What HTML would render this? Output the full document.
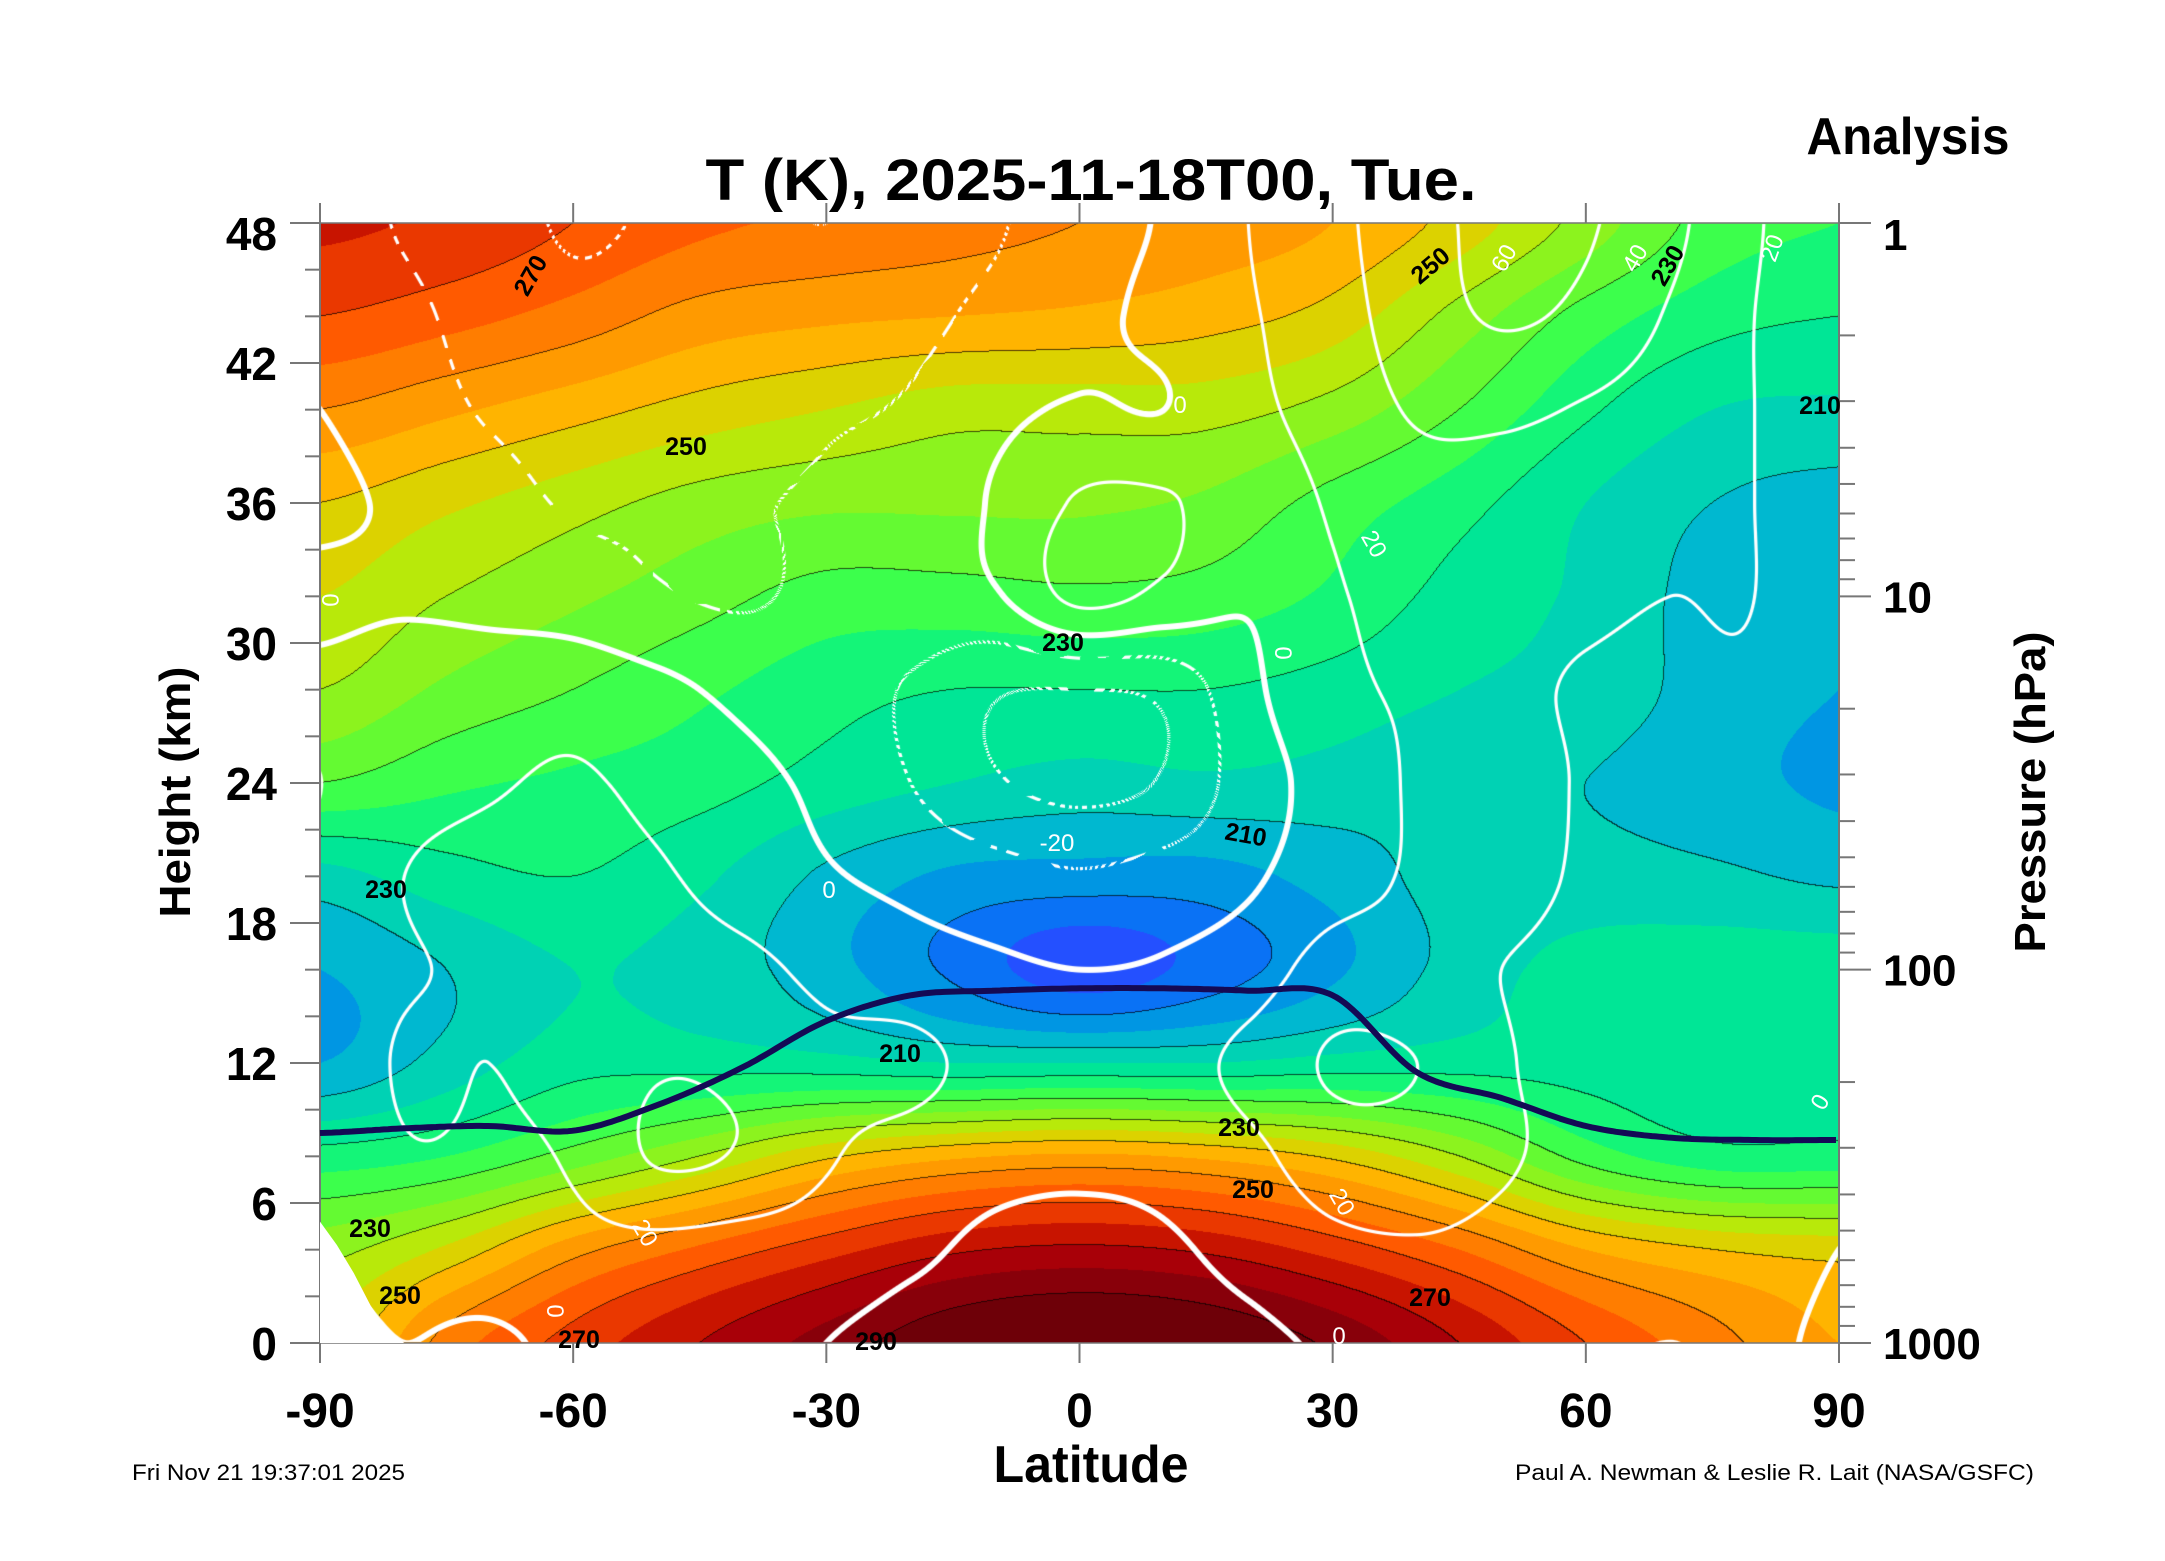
<!DOCTYPE html>
<html><head><meta charset="utf-8">
<style>
html,body{margin:0;padding:0;background:#fff;}
#wrap{position:relative;width:2165px;height:1561px;overflow:hidden;background:#fff;}
#field{position:absolute;left:320px;top:223px;}
#over{position:absolute;left:0;top:0;}
text{font-family:"Liberation Sans",sans-serif;}
</style></head>
<body>
<div id="wrap">
<canvas id="field" width="1519" height="1120"></canvas>
<svg id="over" width="2165" height="1561">
  <g id="axes"></g>
  <g id="marks"></g>
  <g id="tlabels" font-weight="bold" font-size="25" fill="#000" text-anchor="middle">
    <text x="530" y="284" transform="rotate(-60 530 275)">270</text>
    <text x="686" y="455">250</text>
    <text x="1063" y="651">230</text>
    <text x="1820" y="414">210</text>
    <text x="1430" y="274" transform="rotate(-40 1430 265)">250</text>
    <text x="1667" y="274" transform="rotate(-60 1667 265)">230</text>
    <text x="386" y="898">230</text>
    <text x="1246" y="843" transform="rotate(10 1246 834)">210</text>
    <text x="900" y="1062">210</text>
    <text x="1239" y="1136">230</text>
    <text x="1253" y="1198">250</text>
    <text x="370" y="1237">230</text>
    <text x="400" y="1304">250</text>
    <text x="579" y="1348">270</text>
    <text x="876" y="1350">290</text>
    <text x="1430" y="1306">270</text>
  </g>
  <g id="ulabels" font-size="24" fill="#fff" text-anchor="middle">
    <text x="1180" y="413">0</text>
    <text x="1504" y="266" transform="rotate(-60 1504 258)">60</text>
    <text x="1635" y="266" transform="rotate(-60 1635 258)">40</text>
    <text x="1772" y="256" transform="rotate(-70 1772 248)">20</text>
    <text x="1374" y="552" transform="rotate(60 1374 544)">20</text>
    <text x="1283" y="661" transform="rotate(90 1283 653)">0</text>
    <text x="1057" y="851">-20</text>
    <text x="829" y="898">0</text>
    <text x="645" y="1241" transform="rotate(60 645 1233)">20</text>
    <text x="1342" y="1210" transform="rotate(60 1342 1202)">20</text>
    <text x="1339" y="1344">0</text>
    <text x="555" y="1319" transform="rotate(90 555 1311)">0</text>
    <text x="1820" y="1110" transform="rotate(-60 1820 1102)">0</text>
    <text x="330" y="608" transform="rotate(90 330 600)">0</text>
  </g>
  <text x="1091" y="200" font-size="58" font-weight="bold" text-anchor="middle" textLength="771" lengthAdjust="spacingAndGlyphs">T (K), 2025-11-18T00, Tue.</text>
  <text x="1928" y="154" font-size="52" font-weight="bold" text-anchor="middle" textLength="203" lengthAdjust="spacingAndGlyphs" transform="translate(-20 0)">Analysis</text>
  <text x="1091" y="1482" font-size="52" font-weight="bold" text-anchor="middle" textLength="195" lengthAdjust="spacingAndGlyphs">Latitude</text>
  <text x="0" y="0" font-size="44" font-weight="bold" text-anchor="middle" textLength="251" lengthAdjust="spacingAndGlyphs" transform="translate(190 792) rotate(-90)">Height (km)</text>
  <text x="0" y="0" font-size="44" font-weight="bold" text-anchor="middle" textLength="321" lengthAdjust="spacingAndGlyphs" transform="translate(2045 792) rotate(-90)">Pressure (hPa)</text>
  <text x="132" y="1480" font-size="22" textLength="273" lengthAdjust="spacingAndGlyphs">Fri Nov 21 19:37:01 2025</text>
  <text x="1515" y="1480" font-size="22" textLength="519" lengthAdjust="spacingAndGlyphs">Paul A. Newman &amp; Leslie R. Lait (NASA/GSFC)</text>
</svg>
</div>
<script>
// ---- data ----
const tLats = [-90,-75,-60,-45,-30,-15,0,15,30,45,60,75,90];
const uLats = [-90,-80,-70,-60,-50,-40,-30,-20,-10,0,10,20,30,40,50,60,70,80,90];
const levels = [0,4,8,12,16,20,24,28,32,36,40,44,48];
const T0  = [245,262,272,280,287,294,297,295,289,280,270,262,255];
const T4  = [238,246,258,266,273,279,281,279,273,265,255,250,248];
const T8  = [222,225,232,240,249,254,256,254,249,240,228,222,222];
const T12 = [205,212,218,218,217,215,215,215,217,218,218,218,218];
const T16 = [205,210,215,213,207,199,192,197,204,212,217,218,218];
const T20 = [213,218,220,216,209,204,203,203,207,212,212,211,209];
const T24 = [230,226,224,222,218,215,213,214,213,211,210,207,204];
const T28 = [240,234,230,226,222,220,220,220,218,215,213,208,205];
const T32 = [245,240,236,232,228,228,229,228,224,218,214,208,206];
const T36 = [250,246,242,238,236,236,236,234,228,222,215,210,208];
const T40 = [260,256,252,248,245,242,242,242,238,230,221,215,214];
const T44 = [270,267,263,258,256,255,254,252,248,238,228,222,220];
const T48 = [276,274,270,266,264,262,260,258,255,248,238,228,225];
const U0  = [-5,0,-3,5,8,5,0,-5,-5,-5,-5,-3,2,5,5,2,0,2,-2];
const U4  = [0,8,12,15,15,12,10,3,-3,-3,-2,5,15,18,15,10,8,5,0];
const U8  = [3,18,18,22,42,38,22,12,5,2,5,15,30,30,22,15,10,5,2];
const U12 = [5,22,20,25,38,35,25,25,12,5,12,25,42,40,22,15,12,8,3];
const U16 = [5,18,22,25,28,25,15,8,3,0,2,10,28,25,20,15,12,10,5];
const U20 = [3,20,25,25,22,12,2,-5,-12,-18,-12,-3,12,22,25,18,15,12,8];
const U24 = [0,12,18,22,15,6,-5,-20,-38,-45,-38,-10,8,22,25,19,18,15,10];
const U28 = [3,8,10,12,5,-5,-12,-22,-38,-40,-35,-5,15,22,22,19,18,18,10];
const U32 = [-3,-2,-5,-10,-18,-22,-15,-8,-2,25,15,2,18,25,24,22,20,20,8];
const U36 = [3,-3,-12,-22,-22,-21,-18,-12,2,22,22,10,22,32,30,26,24,20,8];
const U40 = [0,-10,-22,-28,-27,-25,-22,-18,-5,2,0,15,28,42,44,38,30,20,8];
const U44 = [-5,-15,-28,-35,-32,-30,-30,-25,-15,-5,5,18,32,50,62,55,38,20,8];
const U48 = [-10,-22,-32,-42,-38,-35,-40,-30,-22,-8,2,20,35,52,66,62,45,22,8];
const tropLats = [-90,-80,-70,-60,-50,-40,-30,-20,-10,0,10,20,30,40,50,60,70,80,90];
const tropHeights = [9.0,9.2,9.3,9.1,10.2,11.8,13.8,14.9,15.1,15.2,15.2,15.1,14.9,11.6,10.5,9.3,8.8,8.7,8.7];
const topoLats = [-90,-88,-86,-84,-82,-80];
const topoHeights = [5.2,4.2,3.0,1.6,0.5,0];
const latTicks = [-90,-60,-30,0,30,60,90];
const heightTicks = [0,6,12,18,24,30,36,42,48];
const pressTicks = [1,10,100,1000];
const tBandColors = ["#5a14c8","#4432f2","#2450ff","#0a72f5","#0096e3","#00b8d0","#00d2b4","#00e696","#14f578","#3cff4c","#64fa32","#8cf31e","#b8e90a","#dcd200","#ffb400","#ff9a00","#ff7d00","#ff5a00","#ea3800","#c81400","#a80008","#88000a","#6e0008"];
const tGrid = [T0,T4,T8,T12,T16,T20,T24,T28,T32,T36,T40,T44,T48];
const uGrid = [U0,U4,U8,U12,U16,U20,U24,U28,U32,U36,U40,U44,U48];

// ---- axes functions ----
const PX0=320, PX1=1839, PY0=223, PY1=1343;
function xOf(lat){return PX0+(lat+90)/180*(PX1-PX0);}
function yOf(h){return PY1-(h/48)*(PY1-PY0);}
function yOfP(p){return PY0+Math.log10(p)/3*(PY1-PY0);}

// ---- interpolation ----
function cr(p0,p1,p2,p3,t){return 0.5*((2*p1)+(-p0+p2)*t+(2*p0-5*p1+4*p2-p3)*t*t+(-p0+3*p1-3*p2+p3)*t*t*t);}
function interp1(xs,vals,x){
  const n=xs.length; let i=0;
  while(i<n-2 && x>xs[i+1]) i++;
  const t=Math.max(0,Math.min(1,(x-xs[i])/(xs[i+1]-xs[i])));
  const v0=vals[Math.max(0,i-1)],v1=vals[i],v2=vals[i+1],v3=vals[Math.min(n-1,i+2)];
  return cr(v0,v1,v2,v3,t);
}
const W=1519,H=1120;
function buildField(grid,lats){
  const cols=[];
  for(let x=0;x<W;x++){
    const lat=-90+(x+0.5)/W*180;
    const c=new Float32Array(levels.length);
    for(let k=0;k<levels.length;k++) c[k]=interp1(lats,grid[k],lat);
    cols.push(c);
  }
  const f=new Float32Array(W*H);
  for(let y=0;y<H;y++){
    const h=48*(1-(y+0.5)/H);
    let i=Math.min(levels.length-2,Math.floor(h/4));
    const t=(h-levels[i])/4;
    const i0=Math.max(0,i-1),i3=Math.min(levels.length-1,i+2);
    for(let x=0;x<W;x++){const c=cols[x];f[y*W+x]=cr(c[i0],c[i],c[i+1],c[i3],t);}
  }
  return f;
}
function hex(c){return [parseInt(c.substr(1,2),16),parseInt(c.substr(3,2),16),parseInt(c.substr(5,2),16)];}
const rgb=tBandColors.map(hex);

const Tf=buildField(tGrid,tLats);
const Uf=buildField(uGrid,uLats);
const cv=document.getElementById('field');
const ctx=cv.getContext('2d');
const img=ctx.createImageData(W,H);
const d=img.data;
for(let y=0;y<H;y++){
  for(let x=0;x<W;x++){
    const idx=y*W+x, T=Tf[idx];
    let b=Math.floor((T-185)/5)+1; b=Math.max(0,Math.min(rgb.length-1,b));
    let r=rgb[b][0],g=rgb[b][1],bl=rgb[b][2];
    const l=Math.floor(T/10);
    let line=false;
    if(x<W-1 && Math.floor(Tf[idx+1]/10)!==l) line=true;
    if(y<H-1 && Math.floor(Tf[idx+W]/10)!==l) line=true;
    if(line){r*=0.3;g*=0.3;bl*=0.3;}
    if(x>0&&x<W-1&&y>0&&y<H-1){
      const u=Uf[idx];
      const gx=(Uf[idx+1]-Uf[idx-1])/2, gy=(Uf[idx+W]-Uf[idx-W])/2;
      const gm=Math.sqrt(gx*gx+gy*gy);
      if(gm>1e-5){
        const L=Math.round(u/20)*20;
        if(L>=-40&&L<=60){
          const dist=Math.abs(u-L)/gm;
          const hw=(L===0)?3.0:1.6;
          let a=Math.max(0,Math.min(1,hw+0.5-dist));
          if(a>0&&L<0){
            const s=(x*(-gy)+y*gx)/gm;
            if(((Math.floor(s/13)%2)+2)%2===1) a=0;
          }
          if(a>0){r=r+(255-r)*a;g=g+(255-g)*a;bl=bl+(255-bl)*a;}
        }
      }
    }
    d[idx*4]=r;d[idx*4+1]=g;d[idx*4+2]=bl;d[idx*4+3]=255;
  }
}
ctx.putImageData(img,0,0);

// ---- SVG overlay ----
const NS='http://www.w3.org/2000/svg';
const axes=document.getElementById('axes');
const marks=document.getElementById('marks');
function el(tag,attrs,parent){const e=document.createElementNS(NS,tag);for(const k in attrs)e.setAttribute(k,attrs[k]);parent.appendChild(e);return e;}

let tp='M'+xOf(topoLats[0])+','+yOf(0);
for(let i=0;i<topoLats.length;i++) tp+=' L'+xOf(topoLats[i])+','+yOf(topoHeights[i]);
tp+=' Z';
const topo=el('path',{d:tp,fill:'#fff'},marks);



let pts=[];
for(let x=PX0;x<=PX1;x+=4){
  const lat=-90+(x-PX0)/(PX1-PX0)*180;
  pts.push(x+','+yOf(interp1(tropLats,tropHeights,lat)).toFixed(1));
}
const trop=el('polyline',{points:pts.join(' '),fill:'none',stroke:'#140a55','stroke-width':6,'stroke-linejoin':'round'},marks);



const frame=el('rect',{x:PX0,y:PY0,width:PX1-PX0,height:PY1-PY0,fill:'none',stroke:'#777','stroke-width':1.5},axes);


el('line',{x1:PX0,y1:203,x2:PX0,y2:1363,stroke:'#777','stroke-width':2},axes);
el('line',{x1:PX1,y1:203,x2:PX1,y2:1363,stroke:'#777','stroke-width':2},axes);

for(const lat of latTicks){
  const x=xOf(lat);
  el('line',{x1:x,y1:203,x2:x,y2:PY0,stroke:'#777','stroke-width':2},axes);
  el('line',{x1:x,y1:PY1,x2:x,y2:1363,stroke:'#777','stroke-width':2},axes);
  const t=el('text',{x:x,y:1427,'font-size':48,'font-weight':'bold','text-anchor':'middle'},axes);
  t.textContent=String(lat);
  
  
}
for(let h=0;h<=48;h+=2){
  const y=yOf(h), major=(h%6===0);
  el('line',{x1:major?290:305,y1:y,x2:PX0,y2:y,stroke:'#777','stroke-width':2},axes);
}
for(const h of heightTicks){
  const y=yOf(h);
  const t=el('text',{x:277,y:(h===48?y+27:y+17),'font-size':46,'font-weight':'bold','text-anchor':'end'},axes);
  t.textContent=String(h);
  
  
}
for(const p0 of pressTicks){
  for(let m=1;m<=9;m++){
    const p=p0*m; if(p>1000) break;
    const y=yOfP(p);
    el('line',{x1:PX1,y1:y,x2:m===1?1871:1855,y2:y,stroke:'#777','stroke-width':2},axes);
  }
  const t=el('text',{x:1883,y:(p0===1?yOfP(p0)+27:yOfP(p0)+16),'font-size':44,'font-weight':'bold'},axes);
  t.textContent=String(p0);
  
  
}
</script>
</body></html>
